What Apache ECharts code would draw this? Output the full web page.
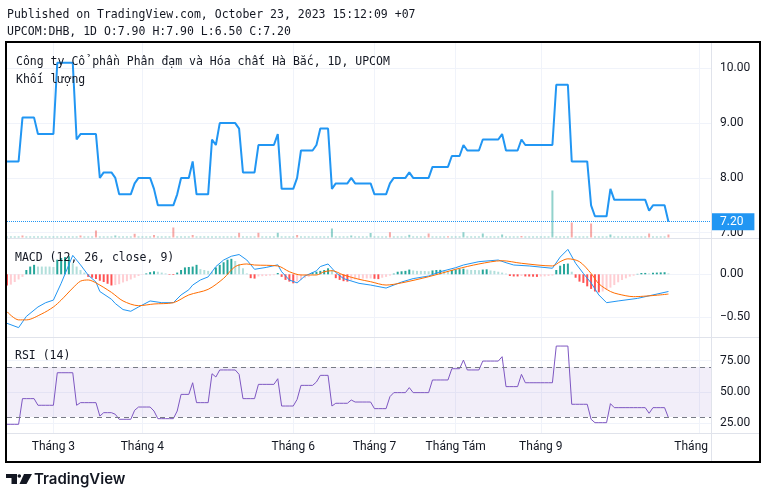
<!DOCTYPE html>
<html>
<head>
<meta charset="utf-8">
<script src="https://cdn.jsdelivr.net/npm/echarts/dist/echarts.min.js"></script>
<style>
  html, body { margin: 0; padding: 0; background: #fff; }
  #chart { width: 767px; height: 498px; }
</style>
</head>
<body>
<div id="chart"></div>
<script>
// bar slots on the time scale (data + empty space to the right)
const slotCount = 183;
const tickIndex = [12, 35, 74, 95, 116, 138, 179];
const tickLabels = ['Tháng 3', 'Tháng 4', 'Tháng 6', 'Tháng 7', 'Tháng Tám', 'Tháng 9', 'Tháng 10'];

// close price per bar
const price = [
  8.3,8.3,8.3,8.3,9.1,9.1,9.1,9.1,8.8,8.8,
  8.8,8.8,8.8,10.1,10.1,10.1,10.1,10.1,8.7,8.8,
  8.8,8.8,8.8,8.8,8.0,8.1,8.1,8.1,8.0,7.7,
  7.7,7.7,7.7,7.9,8.0,8.0,8.0,8.0,7.8,7.5,
  7.5,7.5,7.5,7.5,7.7,8.0,8.0,8.0,8.3,7.7,
  7.7,7.7,7.7,8.7,8.6,9.0,9.0,9.0,9.0,9.0,
  8.9,8.1,8.1,8.1,8.1,8.6,8.6,8.6,8.6,8.6,
  8.8,7.8,7.8,7.8,7.8,8.0,8.5,8.5,8.5,8.5,
  8.6,8.9,8.9,8.9,7.8,7.9,7.9,7.9,7.9,8.0,
  7.9,7.9,7.9,7.9,7.9,7.7,7.7,7.7,7.7,7.9,
  8.0,8.0,8.0,8.0,8.1,8.0,8.0,8.0,8.0,8.0,
  8.2,8.2,8.2,8.2,8.2,8.4,8.4,8.4,8.6,8.5,
  8.5,8.5,8.5,8.7,8.7,8.7,8.7,8.7,8.8,8.5,
  8.5,8.5,8.5,8.7,8.6,8.6,8.6,8.6,8.6,8.6,
  8.6,8.6,9.7,9.7,9.7,9.7,8.3,8.3,8.3,8.3,
  8.3,7.5,7.3,7.3,7.3,7.3,7.8,7.6,7.6,7.6,
  7.6,7.6,7.6,7.6,7.6,7.6,7.4,7.5,7.5,7.5,
  7.5,7.2
];

// volume per bar (relative units) and bars that closed below their open
const volume = [
  .1,.1,.1,.1,.2,.1,.1,.1,.1,.1,
  .1,.1,.1,.1,.1,.1,.1,.1,.1,.2,
  .1,.1,.1,.7,.1,.1,.1,.1,.2,.1,
  .1,.1,.1,.37,.1,.1,.1,.1,.25,.1,
  .1,.1,.1,1.0,.1,.1,.1,.1,.25,.1,
  .1,.1,.1,.1,.1,.1,.1,.1,.1,.1,
  .47,.1,.1,.1,.1,.47,.1,.1,.1,.1,
  .47,.1,.1,.1,.1,.25,.1,.1,.1,.1,
  .1,.1,.1,.1,.9,.1,.1,.1,.1,.2,
  .1,.1,.1,.1,.45,.1,.1,.1,.1,.53,
  .1,.1,.1,.1,.27,.1,.1,.1,.1,.4,
  .1,.1,.1,.1,.12,.1,.1,.1,.53,.1,
  .1,.1,.1,.4,.1,.1,.1,.1,.3,.1,
  .1,.1,.1,.15,.1,.1,.1,.1,.1,.1,
  .1,4.7,.1,.1,.1,.1,1.5,.1,.1,.1,
  .1,1.4,.1,.1,.1,.1,.3,.1,.1,.1,
  .1,.1,.1,.1,.1,.1,.4,.1,.1,.1,
  .1,.3
];
const volumeDown = [4,19,23,33,38,43,48,60,65,75,99,109,114,133,146,151,166,171];

// MACD line and signal line, read at [bar, value]
const macdLine = [
  [0,-0.57],[3,-0.62],[5,-0.49],[8,-0.38],[10,-0.33],[12,-0.30],[14,-0.105],[17,0.22],
  [19,0.11],[21,-0.01],[23,-0.09],[24,-0.20],[27,-0.29],[28,-0.34],[30,-0.41],[32,-0.43],
  [34,-0.38],[37,-0.31],[40,-0.33],[43,-0.33],[45,-0.24],[47,-0.18],[48,-0.125],[50,-0.066],
  [52,-0.03],[54,0.09],[56,0.166],[58,0.21],[60,0.23],[62,0.166],[64,0.058],[67,0.08],
  [70,0.11],[71,0.03],[73,-0.066],[75,-0.10],[77,-0.02],[80,0.04],[81,0.09],[83,0.12],
  [85,0.02],[87,-0.05],[91,-0.105],[94,-0.125],[98,-0.16],[102,-0.09],[105,-0.05],[109,-0.02],
  [112,0.03],[116,0.077],[118,0.108],[122,0.147],[127,0.166],[129,0.135],[131,0.108],[135,0.097],
  [141,0.07],[143,0.2],[145,0.29],[147,0.128],[149,0.01],[151,-0.1],[153,-0.24],[155,-0.33],
  [158,-0.31],[163,-0.28],[167,-0.24],[171,-0.20]
];
const signalLine = [
  [0,-0.435],[3,-0.53],[5,-0.53],[9,-0.46],[12,-0.38],[14,-0.30],[17,-0.16],[19,-0.08],
  [21,-0.066],[23,-0.10],[27,-0.21],[30,-0.31],[34,-0.365],[38,-0.345],[43,-0.33],[47,-0.24],
  [52,-0.175],[56,-0.047],[59,0.09],[62,0.12],[64,0.108],[70,0.097],[73,0.03],[76,-0.008],
  [80,-0.008],[82,0.03],[84,0.042],[87,-0.008],[91,-0.058],[94,-0.086],[98,-0.125],[102,-0.10],
  [109,-0.028],[116,0.058],[122,0.12],[128,0.158],[133,0.128],[141,0.097],[143,0.147],[145,0.18],
  [148,0.147],[151,0.01],[153,-0.11],[156,-0.20],[158,-0.23],[162,-0.26],[171,-0.23]
];

// MACD histogram per bar
const hist = [
  -0.13,-0.12,-0.09,-0.06,-0.03,0.05,0.09,0.11,0.09,0.09,
  0.09,0.09,0.085,0.17,0.19,0.2,0.21,0.13,0.09,0.05,
  0.02,-0.03,-0.04,-0.055,-0.075,-0.09,-0.11,-0.13,-0.125,-0.115,
  -0.095,-0.08,-0.06,-0.04,-0.02,-0.005,0.01,0.025,0.035,0.03,
  0.02,0.01,-0.006,-0.008,0.02,0.05,0.08,0.085,0.09,0.11,
  0.06,0.05,0.04,0.03,0.08,0.11,0.14,0.17,0.18,0.155,
  0.12,0.07,0.01,-0.045,-0.05,-0.025,-0.022,-0.02,-0.015,-0.01,
  0.015,-0.03,-0.065,-0.085,-0.105,-0.085,-0.065,-0.045,-0.03,0.02,
  0.03,0.04,0.05,0.07,0.05,-0.045,-0.065,-0.08,-0.085,-0.07,
  -0.06,-0.055,-0.05,-0.049,-0.048,-0.052,-0.056,-0.04,-0.03,-0.015,
  0.008,0.03,0.035,0.04,0.055,0.045,0.04,0.04,0.038,0.035,
  0.045,0.05,0.052,0.045,0.04,0.05,0.055,0.06,0.065,0.055,
  0.05,0.05,0.048,0.055,0.058,0.045,0.04,0.03,0.02,0.008,
  -0.02,-0.025,-0.025,-0.02,-0.025,-0.026,-0.028,-0.03,-0.025,-0.024,
  -0.02,-0.015,0.05,0.1,0.12,0.125,0.03,-0.04,-0.085,-0.1,
  -0.14,-0.17,-0.2,-0.21,-0.2,-0.18,-0.155,-0.125,-0.093,-0.066,
  -0.047,-0.027,-0.016,0.005,0.015,0.016,0.01,0.018,0.02,0.022,
  0.024,0.01
];

// RSI(14) per bar
const rsi = [
  24.2,24.2,24.2,24.2,44.7,44.7,44.7,44.7,39.4,39.4,
  39.4,39.4,39.4,65.4,65.4,65.4,65.4,65.4,39.4,41.5,
  41.5,41.5,41.5,41.5,30.8,33.5,33.5,33.5,32.2,28.2,
  28.2,28.2,28.2,35.4,38.0,38.0,38.0,38.0,34.8,28.7,
  28.7,28.7,28.7,28.7,34.8,48.1,48.1,48.1,57.4,41.5,
  41.5,41.5,41.5,64.6,62.0,67.6,67.6,67.6,67.6,67.6,
  64.1,44.7,44.7,44.7,44.7,56.1,56.1,56.1,56.1,56.1,
  60.6,38.8,38.8,38.8,38.8,44.1,55.3,55.3,55.3,55.3,
  58.0,63.3,63.3,63.3,38.8,41.0,41.0,41.0,41.0,43.6,
  42.0,42.0,42.0,42.0,42.0,36.7,36.7,36.7,36.7,46.3,
  49.5,49.5,49.5,49.5,53.5,49.5,49.5,49.5,49.5,49.5,
  59.6,59.6,59.6,59.6,59.6,68.6,68.6,68.6,75.5,67.6,
  67.6,67.6,67.6,74.7,74.7,74.7,74.7,74.7,78.2,54.3,
  54.3,54.3,54.3,64.1,57.4,57.4,57.4,57.4,57.4,57.4,
  57.4,57.4,86.7,86.7,86.7,86.7,40.2,40.2,40.2,40.2,
  40.2,28.2,25.5,25.5,25.5,25.5,40.7,37.5,37.5,37.5,
  37.5,37.5,37.5,37.5,37.5,37.5,33.0,37.5,37.5,37.5,
  37.5,29.5
];
const rsiBands = [30, 70];

const headerLines = [
  'Published on TradingView.com, October 23, 2023 15:12:09 +07',
  'UPCOM:DHB, 1D O:7.90 H:7.90 L:6.50 C:7.20'
];
const seriesTitle = 'Công ty Cổ phần Phân đạm và Hóa chất Hà Bắc, 1D, UPCOM';
const volumeTitle = 'Khối lượng';
const macdTitle = 'MACD (12, 26, close, 9)';
const rsiTitle = 'RSI (14)';

const categories = Array.from({ length: slotCount }, (_, i) => {
  const k = tickIndex.indexOf(i);
  return k >= 0 ? tickLabels[k] : '';
});

const TXT = '#131722';
const GRID_LINE = '#f0f3fa';
const SEP = '#e0e3eb';
const MONO = '11.5px "DejaVu Sans Mono"';
const isTick = (i, v) => v !== '';

function histColor(i) {
  const v = hist[i];
  const p = i > 0 ? hist[i - 1] : v;
  if (v >= 0) return p < v ? '#26a69a' : '#b2dfdb';
  return p < v ? '#ffcdd2' : '#ff5252';
}

const minusFmt = v => (v < 0 ? '\u2212' : '') + Math.abs(v).toFixed(2);

const chart = echarts.init(document.getElementById('chart'));

const xAxes = [0, 1, 2, 3, 4].map(g => ({
  type: 'category',
  gridIndex: g,
  data: categories,
  boundaryGap: false,
  show: g === 0,
  axisLine: { show: false },
  axisTick: { show: false },
  axisLabel: { interval: isTick, color: TXT, fontSize: 12, fontFamily: 'Roboto', margin: 8 },
  splitLine: { show: true, interval: isTick, lineStyle: { color: GRID_LINE } }
}));

const rightAxis = (g, min, max, interval, fmt) => ({
  type: 'value', gridIndex: g, position: 'right', min: min, max: max, interval: interval,
  axisLine: { show: false }, axisTick: { show: false },
  axisLabel: { color: TXT, fontSize: 12, fontFamily: 'Roboto', margin: 9, formatter: fmt },
  splitLine: { lineStyle: { color: GRID_LINE } }
});

const lastPrice = price[price.length - 1];

const option = {
  animation: false,
  backgroundColor: '#fff',
  grid: [
    { left: 7, right: 56, top: 43, height: 390 },
    { left: 7, right: 56, top: 68.3, height: 164.4 },
    { left: 7, right: 56, top: 137.5, height: 100 },
    { left: 7, right: 56, top: 274.3, height: 43 },
    { left: 7, right: 56, top: 360.7, height: 62.6 }
  ],
  xAxis: xAxes,
  yAxis: [
    { type: 'value', gridIndex: 0, show: false },
    rightAxis(1, 7, 10, 1, v => v.toFixed(2)),
    { type: 'value', gridIndex: 2, show: false, min: 0, max: 10 },
    rightAxis(3, -0.5, 0, 0.5, minusFmt),
    rightAxis(4, 25, 75, 25, v => v.toFixed(2))
  ],
  series: [
    {
      type: 'bar', xAxisIndex: 2, yAxisIndex: 2, data: volume, barWidth: 2, clip: false,
      itemStyle: {
        color: p => volumeDown.includes(p.dataIndex) ? 'rgba(239,83,80,0.5)' : 'rgba(38,166,154,0.5)'
      }
    },
    {
      type: 'line', xAxisIndex: 1, yAxisIndex: 1, data: price, symbol: 'none', clip: false,
      lineStyle: { color: '#2196f3', width: 2 },
      markLine: {
        silent: true, symbol: 'none',
        lineStyle: { color: '#2196f3', type: 'dotted', width: 1 },
        label: {
          show: true, position: 'end', distance: 0,
          formatter: p => p.value.toFixed(2),
          backgroundColor: '#2196f3', color: '#fff', fontSize: 12, fontFamily: 'Roboto',
          padding: [2, 11, 2, 9], lineHeight: 13
        },
        data: [{ yAxis: lastPrice }]
      }
    },
    {
      type: 'bar', xAxisIndex: 3, yAxisIndex: 3, data: hist, barWidth: 2, clip: false,
      itemStyle: { color: p => histColor(p.dataIndex) }
    },
    {
      type: 'line', xAxisIndex: 3, yAxisIndex: 3, data: macdLine, symbol: 'none', clip: false,
      lineStyle: { color: '#2196f3', width: 1 }
    },
    {
      type: 'line', xAxisIndex: 3, yAxisIndex: 3, data: signalLine, symbol: 'none', clip: false,
      smooth: 0.3, lineStyle: { color: '#ff6d00', width: 1 }
    },
    {
      type: 'line', xAxisIndex: 4, yAxisIndex: 4, data: rsi, symbol: 'none', clip: false,
      lineStyle: { color: '#7e57c2', width: 1 },
      markArea: {
        silent: true,
        itemStyle: { color: 'rgba(126,87,194,0.1)' },
        data: [[{ yAxis: rsiBands[1] }, { yAxis: rsiBands[0] }]]
      },
      markLine: {
        silent: true, symbol: 'none', label: { show: false },
        lineStyle: { color: '#787b86', type: [5, 4], width: 1 },
        data: rsiBands.map(v => ({ yAxis: v }))
      }
    }
  ],
  graphic: [
    { type: 'text', x: 7, y: 15, style: { text: headerLines[0], font: MONO, fill: TXT, verticalAlign: 'middle' } },
    { type: 'text', x: 7, y: 32, style: { text: headerLines[1], font: MONO, fill: TXT, verticalAlign: 'middle' } },
    { type: 'text', x: 16, y: 62, z: 20, style: { text: seriesTitle, font: MONO, fill: TXT, verticalAlign: 'middle' } },
    { type: 'text', x: 16, y: 80, z: 20, style: { text: volumeTitle, font: MONO, fill: TXT, verticalAlign: 'middle' } },
    { type: 'text', x: 15, y: 258, z: 20, style: { text: macdTitle, font: MONO, fill: TXT, verticalAlign: 'middle' } },
    { type: 'text', x: 15, y: 356, z: 20, style: { text: rsiTitle, font: MONO, fill: TXT, verticalAlign: 'middle' } },
    // masks: time label cut by price scale, 7.00 cut by pane border
    { type: 'rect', z: 50, shape: { x: 712, y: 434, width: 47, height: 27 }, style: { fill: '#fff' } },
    { type: 'rect', z: 50, shape: { x: 712, y: 238.5, width: 47, height: 4 }, style: { fill: '#fff' } },
    // pane separators and price scale border
    { type: 'line', z: 60, shape: { x1: 7, y1: 238.5, x2: 759, y2: 238.5 }, style: { stroke: SEP, lineWidth: 1 } },
    { type: 'line', z: 60, shape: { x1: 7, y1: 337.5, x2: 759, y2: 337.5 }, style: { stroke: SEP, lineWidth: 1 } },
    { type: 'line', z: 60, shape: { x1: 7, y1: 433.5, x2: 759, y2: 433.5 }, style: { stroke: SEP, lineWidth: 1 } },
    { type: 'line', z: 60, shape: { x1: 711.5, y1: 43, x2: 711.5, y2: 461 }, style: { stroke: SEP, lineWidth: 1 } },
    // outer frame
    { type: 'rect', z: 70, shape: { x: 6, y: 42, width: 754, height: 420 }, style: { fill: 'none', stroke: '#000', lineWidth: 2 } },
    // TradingView logo
    { type: 'rect', shape: { x: 6, y: 474, width: 11, height: 4 }, style: { fill: TXT } },
    { type: 'rect', shape: { x: 11.5, y: 474, width: 5.5, height: 10 }, style: { fill: TXT } },
    { type: 'circle', shape: { cx: 19.3, cy: 476, r: 1.8 }, style: { fill: TXT } },
    { type: 'polygon', shape: { points: [[24, 474], [32, 474], [26.5, 484], [19.5, 484]] }, style: { fill: TXT } },
    { type: 'text', x: 34, y: 479.5, style: { text: 'TradingView', font: '600 15px Inter', fill: TXT, verticalAlign: 'middle' } }
  ]
};

chart.setOption(option);
</script>
</body>
</html>
